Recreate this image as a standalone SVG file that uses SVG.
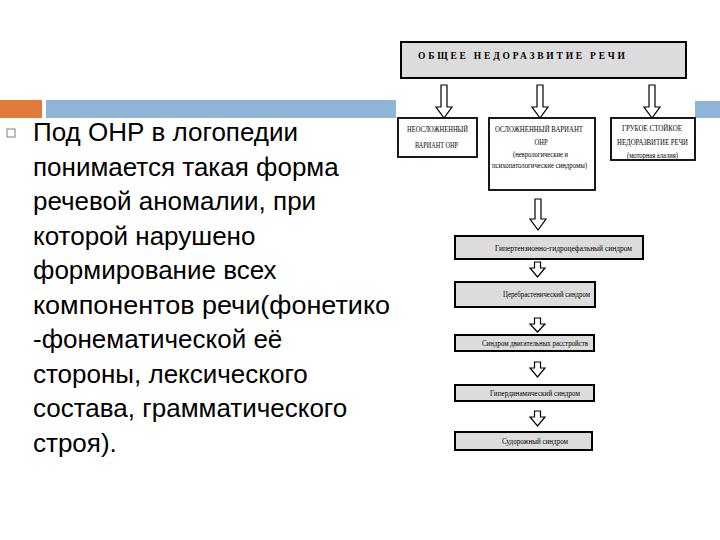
<svg xmlns="http://www.w3.org/2000/svg" width="720" height="540" viewBox="0 0 720 540">
<style>
.main{font-family:"Liberation Sans","Open Sans",sans-serif;font-size:26px;fill:#000}
.t{font-family:"Liberation Serif","DejaVu Serif",serif;font-size:7.5px;fill:#000}
.h{font-family:"Liberation Serif","DejaVu Serif",serif;font-size:9.5px;font-weight:bold;fill:#000}
.wbox{fill:#fff;stroke:#000;stroke-width:1.8}
.gbox{fill:#dcdcdc;stroke:#000;stroke-width:2}
.arr{fill:#fff;stroke:#000;stroke-width:1.2;stroke-linejoin:miter}
</style>
<rect width="720" height="540" fill="#fff"/>
<g id="bars">
<rect x="0" y="100" width="42" height="18" fill="#e07b39"/>
<rect x="46" y="100" width="350" height="18" fill="#8eb4d6"/>
<rect x="695" y="101" width="25" height="17" fill="#8eb4d6"/>
</g>
<g id="bullet-text">
<rect x="7" y="129" width="8" height="8" fill="none" stroke="#7f7f7f" stroke-width="1"/>
<text class="main" x="33" y="141">Под ОНР в логопедии</text>
<text class="main" x="33" y="176">понимается такая форма</text>
<text class="main" x="33" y="210">речевой аномалии, при</text>
<text class="main" x="33" y="245">которой нарушено</text>
<text class="main" x="33" y="279">формирование всех</text>
<text class="main" x="33" y="314" textLength="357" lengthAdjust="spacingAndGlyphs">компонентов речи(фонетико</text>
<text class="main" x="33" y="348">-фонематической её</text>
<text class="main" x="33" y="383">стороны, лексического</text>
<text class="main" x="33" y="417">состава, грамматического</text>
<text class="main" x="33" y="452">строя).</text>
</g>
<g id="connectors">
<polygon class="arr" points="441,85 447,85 447,107 452,107 444,118 436,107 441,107"/>
<polygon class="arr" points="537,85 543,85 543,107 548,107 540,118 532,107 537,107"/>
<polygon class="arr" points="649,85 655,85 655,107 660,107 652,118 644,107 649,107"/>
<polygon class="arr" points="535,199 541,199 541,219 546,219 538,230 530,219 535,219"/>
<polygon class="arr" points="534.5,262 540.5,262 540.5,268 545,268 537.5,277 530,268 534.5,268"/>
<polygon class="arr" points="534.5,318 540.5,318 540.5,324 545,324 537.5,332 530,324 534.5,324"/>
<polygon class="arr" points="534.5,362 540.5,362 540.5,368 545,368 537.5,377 530,368 534.5,368"/>
<polygon class="arr" points="534.5,411 540.5,411 540.5,417 545,417 537.5,426 530,417 534.5,417"/>
</g>
<g id="n-top">
<rect class="gbox" x="401" y="42" width="285" height="36"/>
<text class="h" x="418" y="59" textLength="207" lengthAdjust="spacing">ОБЩЕЕ НЕДОРАЗВИТИЕ РЕЧИ</text>
</g>
<g id="n-uncomplicated">
<rect class="wbox" x="398" y="118" width="79" height="39"/>
<text class="t" x="437.5" y="132" text-anchor="middle" textLength="61" lengthAdjust="spacingAndGlyphs">НЕОСЛОЖНЕННЫЙ</text>
<text class="t" x="436.5" y="148" text-anchor="middle" textLength="43" lengthAdjust="spacingAndGlyphs">ВАРИАНТ ОНР</text>
</g>
<g id="n-complicated">
<rect class="wbox" x="489" y="118" width="106" height="72"/>
<text class="t" x="539" y="132" text-anchor="middle" textLength="88" lengthAdjust="spacingAndGlyphs">ОСЛОЖНЕННЫЙ ВАРИАНТ</text>
<text class="t" x="541" y="145" text-anchor="middle" textLength="13" lengthAdjust="spacingAndGlyphs">ОНР</text>
<text class="t" x="540.5" y="157" text-anchor="middle" textLength="55" lengthAdjust="spacingAndGlyphs">(неврологические и</text>
<text class="t" x="539.5" y="168" text-anchor="middle" textLength="95" lengthAdjust="spacingAndGlyphs">психопатологические синдромы)</text>
</g>
<g id="n-severe">
<rect class="wbox" x="611" y="118" width="84" height="42"/>
<text class="t" x="652" y="131" text-anchor="middle" textLength="60" lengthAdjust="spacingAndGlyphs">ГРУБОЕ СТОЙКОЕ</text>
<text class="t" x="652.5" y="145" text-anchor="middle" textLength="71" lengthAdjust="spacingAndGlyphs">НЕДОРАЗВИТИЕ РЕЧИ</text>
<text class="t" x="652.5" y="158" text-anchor="middle" textLength="51" lengthAdjust="spacingAndGlyphs">(моторная алалия)</text>
</g>
<g id="n-s1">
<rect class="gbox" x="455" y="236" width="188" height="23"/>
<text class="t" x="563.5" y="251" text-anchor="middle" textLength="137" lengthAdjust="spacingAndGlyphs">Гипертензионно-гидроцефальный синдром</text>
</g>
<g id="n-s2">
<rect class="gbox" x="455" y="282" width="140" height="25"/>
<text class="t" x="546.5" y="297" text-anchor="middle" textLength="87" lengthAdjust="spacingAndGlyphs">Церебрастенический синдром</text>
</g>
<g id="n-s3">
<rect class="gbox" x="455" y="335" width="139" height="16"/>
<text class="t" x="535" y="345.5" text-anchor="middle" textLength="106" lengthAdjust="spacingAndGlyphs">Синдром двигательных расстройств</text>
</g>
<g id="n-s4">
<rect class="gbox" x="455" y="385" width="139" height="16"/>
<text class="t" x="535" y="395.5" text-anchor="middle" textLength="90" lengthAdjust="spacingAndGlyphs">Гипердинамический синдром</text>
</g>
<g id="n-s5">
<rect class="gbox" x="455" y="432" width="137" height="18"/>
<text class="t" x="535" y="443.5" text-anchor="middle" textLength="66" lengthAdjust="spacingAndGlyphs">Судорожный синдром</text>
</g>
</svg>
